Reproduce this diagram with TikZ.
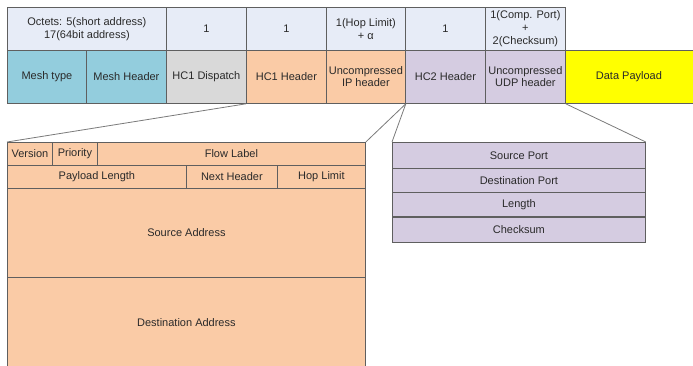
\documentclass[tikz,border=0pt]{standalone}
\usepackage{fontspec}
\setmainfont{Liberation Sans}
\definecolor{octfill}{HTML}{E7ECF7}
\definecolor{meshfill}{HTML}{93CDDD}
\definecolor{dispfill}{HTML}{D9D9D9}
\definecolor{ipfill}{HTML}{FACBA6}
\definecolor{udpfill}{HTML}{D5CCE1}
\definecolor{payfill}{HTML}{FFFF00}
\definecolor{edge}{HTML}{5F5F5F}
\definecolor{txt}{HTML}{2A2A2A}
\definecolor{connc}{HTML}{7A7A7A}
\tikzset{
  cell/.style={draw=edge, line width=0.8pt, anchor=north west, inner sep=0pt,
    align=center, text=txt, font=\fontsize{11}{13}\selectfont},
  twoline/.style={font=\fontsize{11}{12}\selectfont},
  conn/.style={draw=connc, line width=0.8pt},
}
\begin{document}
\begin{tikzpicture}[x=1pt,y=-1pt]
\useasboundingbox (0,0) rectangle (693,365);
% octets row
\node[cell, fill=octfill, minimum width=159, minimum height=43] (oct1) at (7,7) {Octets: 5(short address)\\17(64bit address)};
\node[cell, fill=octfill, minimum width=80, minimum height=43] (oct2) at (166,7) {1};
\node[cell, fill=octfill, minimum width=80, minimum height=43] (oct3) at (246,7) {1};
\node[cell, fill=octfill, minimum width=79, minimum height=43] (oct4) at (326,7) {1(Hop Limit)\\+ α};
\node[cell, fill=octfill, minimum width=80, minimum height=43] (oct5) at (405,7) {1};
\node[cell, fill=octfill, minimum width=80, minimum height=43] (oct6) at (485,7) {1(Comp. Port)\\+\\2(Checksum)};
% header row
\node[cell, fill=meshfill, minimum width=79, minimum height=53] (mtype) at (7,50) {Mesh type};
\node[cell, fill=meshfill, minimum width=80, minimum height=53] (mhdr) at (86,50) {Mesh Header};
\node[cell, fill=dispfill, minimum width=80, minimum height=53] (hcod) at (166,50) {HC1 Dispatch};
\node[cell, fill=ipfill, minimum width=80, minimum height=53] (hcoh) at (246,50) {HC1 Header};
\node[cell, twoline, fill=ipfill, minimum width=79, minimum height=53] (uip) at (326,50) {Uncompressed\\IP header};
\node[cell, fill=udpfill, minimum width=80, minimum height=53] (hctw) at (405,50) {HC2 Header};
\node[cell, twoline, fill=udpfill, minimum width=80, minimum height=53] (uudp) at (485,50) {Uncompressed\\UDP header};
\node[cell, fill=payfill, minimum width=129, minimum height=53] (data) at (565,50) {\hspace*{-1pt}Data Payload\hspace*{1pt}};
% IPv6 header
\node[cell, fill=ipfill, minimum width=45, minimum height=23] (ver) at (7,142) {Version};
\node[cell, fill=ipfill, minimum width=45, minimum height=23] (pri) at (52,142) {Priority};
\node[cell, fill=ipfill, minimum width=268, minimum height=23] (flow) at (97,142) {Flow Label};
\node[cell, fill=ipfill, minimum width=179, minimum height=23] (plen) at (7,165) {Payload Length};
\node[cell, fill=ipfill, minimum width=91, minimum height=23] (nh) at (186,165) {Next Header};
\node[cell, fill=ipfill, minimum width=88, minimum height=23] (hop) at (277,165) {Hop Limit};
\node[cell, fill=ipfill, minimum width=358, minimum height=89] (src) at (7,188) {Source Address};
\node[cell, fill=ipfill, minimum width=358, minimum height=90] (dst) at (7,277) {Destination Address};
% UDP header
\node[cell, fill=udpfill, minimum width=253, minimum height=26] (sport) at (392,142) {Source Port};
\node[cell, fill=udpfill, minimum width=253, minimum height=24] (dport) at (392,168) {Destination Port};
\node[cell, fill=udpfill, minimum width=253, minimum height=25] (len) at (392,192) {Length};
\node[cell, fill=udpfill, minimum width=253, minimum height=25] (chk) at (392,217) {Checksum};
\draw[draw=edge, line width=2pt] (chk.north west) -- (chk.north east);
% connectors
\draw[conn] (hcoh.south west) -- (ver.north west);
\draw[conn] (uip.south east) -- (flow.north east);
\draw[conn] (uip.south east) -- (sport.north west);
\draw[conn] (uudp.south east) -- (sport.north east);
\end{tikzpicture}
\end{document}
